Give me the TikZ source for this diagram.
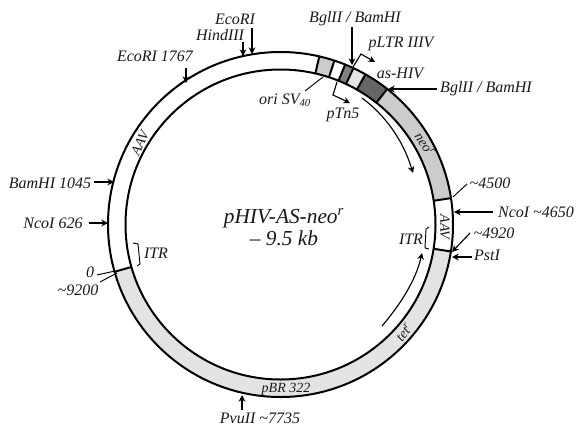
\documentclass[tikz,border=0pt]{standalone}
\usepackage{fontspec}
\setmainfont{Liberation Serif}
\usetikzlibrary{arrows.meta,calc}
\definecolor{lg}{gray}{0.89}
\definecolor{mg}{gray}{0.80}
\definecolor{dg}{gray}{0.40}
\definecolor{dm}{gray}{0.50}
\newcommand{\seg}[3]{\fill[#1] ($(C)+(#2:172.5)$) arc[start angle=#2,end angle=#3,radius=172.5] -- ($(C)+(#3:155)$) arc[start angle=#3,end angle=#2,radius=155] -- cycle;}
\newcommand{\tick}[1]{\draw[ring] ($(C)+(#1:155)$) -- ($(C)+(#1:172.5)$);}
\tikzset{
 ring/.style={line width=1.5pt},
 lab/.style={font=\fontsize{12}{14}\selectfont\itshape,inner sep=0pt,text=black!90},
 small lab/.style={lab,font=\fontsize{10.5}{13}\selectfont\itshape},
 arr/.style={line width=0.85pt,-{Stealth[length=5pt,width=5pt]}},
 thin line/.style={line width=0.7pt},
}
\begin{document}
\begin{tikzpicture}[x=0.75pt,y=-0.75pt]
\useasboundingbox (0,0) rectangle (578,425);
\fill[white] (0,0) rectangle (578,425);
\coordinate (C) at (280.5,224.5);
% segments (negative angles: y axis points down)
\seg{mg}{-77}{-71.8}
\seg{dm}{-68}{-65}
\seg{lg}{-65}{-60.5}
\seg{dg}{-60.5}{-51.8}
\seg{mg}{-51.8}{-8.8}
\seg{lg}{9}{164.1}
% rings
\draw[ring] (C) circle[radius=172.5];
\draw[ring] (C) circle[radius=155];
\tick{-77}\tick{-71.8}\tick{-68}\tick{-65}\tick{-60.5}\tick{-51.8}\tick{-8.8}\tick{9}\tick{164.1}
% centre
\node[lab,font=\fontsize{16}{16}\selectfont\itshape,align=center] (title) at (284,227) {pHIV-AS-neo$^{\mathit{r}}$\\– 9.5 kb};
% labels
\node[lab] (ecori) at (235,19) {EcoRI};
\node[lab] (hind) at (220,35) {HindIII};
\node[lab] (eco1767) at (155,56) {EcoRI 1767};
\node[lab] (bgl1) at (355,19) {BglII / BamHI};
\node[lab] (pltr) at (401,44) {pLTR IIIV};
\node[lab] (ashiv) at (400,73) {as-HIV};
\node[lab] (bgl2) at (486,89) {BglII / BamHI};
\node[lab] (ori) at (285,100) {ori SV$_{\mathit{40}}$};
\node[lab] (ptn) at (343,115) {pTn5};
\node[small lab,rotate=-56] (neo) at (425,144) {neo$^{\mathit{r}}$};
\node[lab] (n4500) at (490,183) {\textasciitilde 4500};
\node[lab] (nco2) at (536,212) {NcoI \textasciitilde 4650};
\node[lab] (n4920) at (494,233) {\textasciitilde 4920};
\node[lab] (pst) at (487,255) {PstI};
\node[small lab,rotate=-90] (aav2) at (445,227) {AAV};
\node[lab] (itr2) at (411,239) {ITR};
\node[small lab,rotate=52] (tet) at (404,332) {tet$^{\mathit{r}}$};
\node[small lab] (pbr) at (286,389) {pBR 322};
\node[lab] (pvu) at (260,418) {PvuII \textasciitilde 7735};
\node[small lab,rotate=65] (aav1) at (140,143) {AAV};
\node[lab] (bam) at (50,183) {BamHI 1045};
\node[lab] (nco1) at (53,223) {NcoI 626};
\node[lab] (itr1) at (156,253) {ITR};
\node[lab] (zero) at (90,272) {0};
\node[lab] (n9200) at (78,290) {\textasciitilde 9200};
% ring points
\coordinate (pEco) at (252,54);
\coordinate (pHind) at (243,56);
\coordinate (pE17) at (186,83);
\coordinate (pBgl1) at (352,65);
\coordinate (pBgl2) at (388,89);
\coordinate (pNco2) at (454,212);
\coordinate (pPst) at (452,257);
\coordinate (p4920) at (452,252);
\coordinate (pPvu) at (242,395);
\coordinate (pBam) at (114,182);
\coordinate (pNco1) at (108,223);
% arrows
\draw[arr] (252,28) -- (pEco);
\draw[arr] (243,42) -- (pHind);
\draw[arr] (186,68) -- (pE17);
\draw[arr] (352,27) -- (pBgl1);
\draw[arr] (437,89) -- (pBgl2);
\draw[arr] (493,212) -- (pNco2);
\draw[arr] (472,257) -- (pPst);
\draw[arr] (470,233) -- (p4920);
\draw[arr] (242,410) -- (pPvu);
\draw[arr] (94,182) -- (pBam);
\draw[arr] (89,223) -- (pNco1);
% promoters
\draw[arr] (353,67) -- (361,54) -- (375,62);
\draw[arr] (337,82) -- (333,95) -- (350,103);
% leaders
\draw[thin line] (323,77) -- (305,91);
\draw[thin line] (453,197) -- (467,184);
\draw[thin line] (115,271) -- (97,275);
\draw[thin line] (117,273) -- (100,282);
% ITR brackets
\draw[thin line] (133,243) -- (138,244) -- (140,264) -- (137,266);
\draw[thin line] (429,227) -- (426,229) -- (425,248) -- (429,249);
% inner arrows
\draw[arr] (362,98) .. controls (385,115) and (403,140) .. (413,173);
\draw[arr] (382,326) .. controls (400,305) and (416,280) .. (422,253);
\end{tikzpicture}
\end{document}
